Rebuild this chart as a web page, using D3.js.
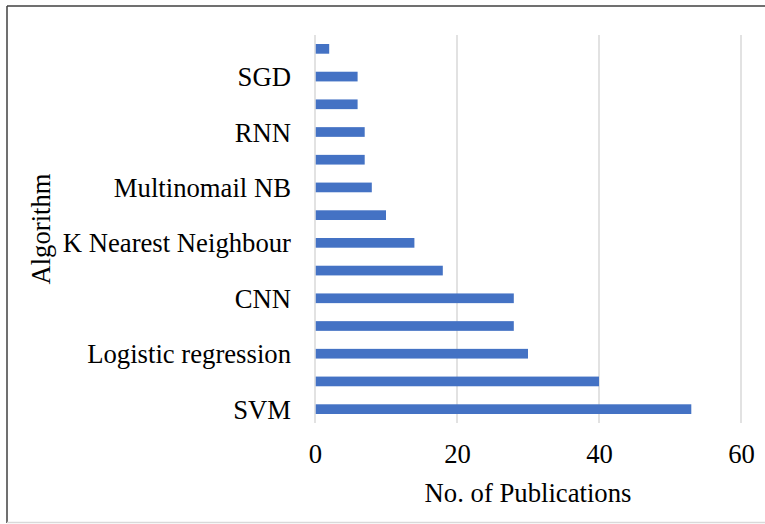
<!DOCTYPE html>
<html>
<head>
<meta charset="utf-8">
<script src="https://cdn.jsdelivr.net/npm/d3@7/dist/d3.min.js"></script>
<style>
  html, body { margin: 0; padding: 0; background: #fff; }
  svg { display: block; }
  text { font-family: "Liberation Serif", "Times New Roman", serif; fill: #000; }
</style>
</head>
<body>
<svg id="chart" width="765" height="524"></svg>
<script>
// Categories bottom-to-top (as in the chart); only every other label is shown
const categories = ["SVM", "Naive Bayes", "Logistic regression", "Random Forest", "CNN", "LSTM",
  "K Nearest Neighbour", "Decision Tree", "Multinomail NB", "BERT", "RNN", "XGBoost", "SGD", "AdaBoost"];
const publications = [53, 40, 30, 28, 28, 18, 14, 10, 8, 7, 7, 6, 6, 2];
const xTicks = [0, 20, 40, 60];
const xTitle = "No. of Publications";
const yTitle = "Algorithm";

const svg = d3.select("#chart");
const W = 765, H = 524;
const plot = { left: 315, right: 741, top: 35, bottom: 423 };
const fontSize = 26.7;

// outer chart border (cropped on the right)
svg.append("line").attr("x1", 7).attr("x2", W).attr("y1", 6).attr("y2", 6)
  .attr("stroke", "#404040").attr("stroke-width", 1.5);
svg.append("line").attr("x1", 7).attr("x2", 7).attr("y1", 6).attr("y2", 523)
  .attr("stroke", "#404040").attr("stroke-width", 1.5);
svg.append("line").attr("x1", 7).attr("x2", W).attr("y1", 522.5).attr("y2", 522.5)
  .attr("stroke", "#d9d9d9").attr("stroke-width", 1.5);

const x = d3.scaleLinear().domain([0, 60]).range([plot.left, plot.right]);
const y = d3.scaleBand().domain(categories).range([plot.bottom, plot.top])
  .paddingInner(0.65).paddingOuter(0.325);

// gridlines
svg.append("g").selectAll("line").data(xTicks).join("line")
  .attr("x1", d => x(d)).attr("x2", d => x(d))
  .attr("y1", plot.top).attr("y2", plot.bottom)
  .attr("stroke", "#d9d9d9").attr("stroke-width", 1.5);

// bars
svg.append("g").selectAll("rect").data(categories).join("rect")
  .attr("x", x(0) + 0.75)
  .attr("y", d => y(d))
  .attr("width", (d, i) => x(publications[i]) - x(0) - 0.75)
  .attr("height", y.bandwidth())
  .attr("fill", "#4472c4");

// x axis labels
const xAxis = d3.axisBottom(x).tickValues(xTicks).tickSize(0).tickPadding(0);
const gx = svg.append("g").attr("transform", `translate(0,${plot.bottom})`).call(xAxis);
gx.select(".domain").remove();
gx.selectAll("text").attr("font-size", fontSize)
  .attr("font-family", "Liberation Serif").attr("dy", null).attr("y", 40);

// y axis labels (every other one shown)
const yAxis = d3.axisLeft(y).tickSize(0).tickPadding(24)
  .tickFormat((d, i) => i % 2 === 0 ? d : "");
const gy = svg.append("g").attr("transform", `translate(${plot.left},0)`).call(yAxis);
gy.select(".domain").remove();
gy.selectAll("text").attr("font-size", fontSize)
  .attr("font-family", "Liberation Serif").attr("dy", "0.36em");

// axis titles
svg.append("text").attr("x", (plot.left + plot.right) / 2).attr("y", 502)
  .attr("text-anchor", "middle").attr("font-size", fontSize).text(xTitle);
svg.append("text")
  .attr("transform", `translate(50,${(plot.top + plot.bottom) / 2}) rotate(-90)`)
  .attr("text-anchor", "middle").attr("font-size", fontSize).text(yTitle);
</script>
</body>
</html>
